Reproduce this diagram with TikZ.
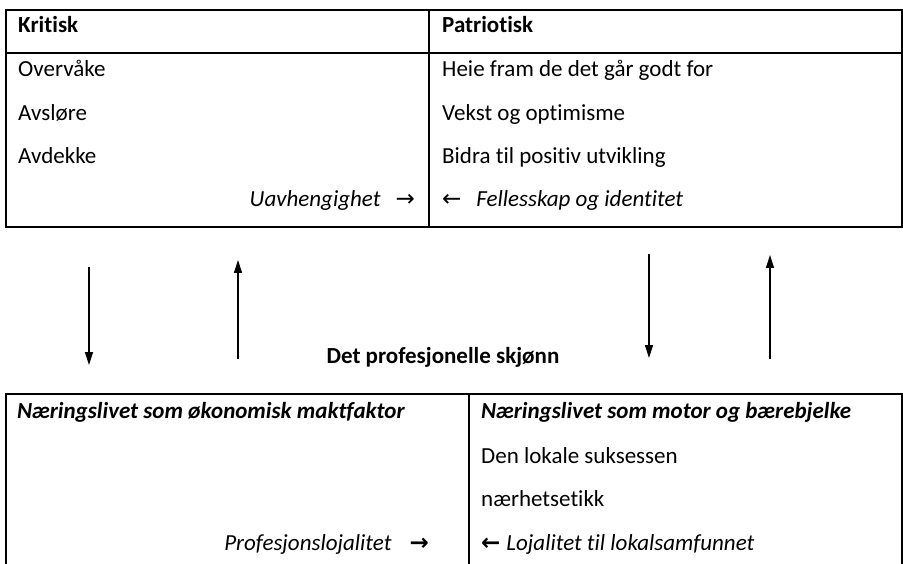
\documentclass[tikz,border=0pt]{standalone}
\usepackage{fontspec}
\setmainfont{Carlito}[Ligatures={NoCommon,NoContextual}]
\newfontfamily\arrowfont{DejaVu Sans}
\usetikzlibrary{arrows.meta}
\begin{document}
\begin{tikzpicture}[x=1pt,y=-1pt,
  every node/.style={inner sep=0pt,font=\fontsize{23}{28}\selectfont},
  lt/.style={anchor=base west},
  rt/.style={anchor=base east},
  ct/.style={anchor=base},
  rule/.style={line width=1.8pt},
  flow/.style={line width=1.3pt,-{Triangle[length=13pt,width=8pt]}}]
\useasboundingbox (0,0) rectangle (903,564);
% top table
\draw[rule] (6,10) rectangle (902,227);
\draw[rule] (6,53) -- (902,53);
\draw[rule] (429,10) -- (429,227);
\node[lt] (kritisk) at (18,33) {\bfseries Kritisk};
\node[lt] (overvake) at (18,77) {Overvåke};
\node[lt] (avslore) at (18,121) {Avsløre};
\node[lt] (avdekke) at (18,164) {Avdekke};
\node[rt] (uavh) at (415,207) {\itshape Uavhengighet\hspace{15pt}{\arrowfont →}};
\node[lt] (patriotisk) at (442,33) {\bfseries Patriotisk};
\node[lt] (heie) at (442,77) {Heie fram de det går godt for};
\node[lt] (vekst) at (442,121) {Vekst og optimisme};
\node[lt] (bidra) at (442,164) {Bidra til positiv utvikling};
\node[lt] (felles) at (442,207) {{\arrowfont ←}\hspace{15pt}\itshape Fellesskap og identitet};
% arrows
\coordinate (a1s) at (89,267);  \coordinate (a1e) at (89,365);
\coordinate (a2s) at (238,359); \coordinate (a2e) at (238,260);
\coordinate (a3s) at (649,254); \coordinate (a3e) at (649,358);
\coordinate (a4s) at (770,359); \coordinate (a4e) at (770,255);
\draw[flow] (a1s) -- (a1e);
\draw[flow] (a2s) -- (a2e);
\draw[flow] (a3s) -- (a3e);
\draw[flow] (a4s) -- (a4e);
\node[ct] (skjonn) at (443,363) {\bfseries Det profesjonelle skjønn};
% bottom table
\draw[rule] (6,564) -- (6,394) -- (902,394) -- (902,564);
\draw[rule] (469,394) -- (469,564);
\node[lt] (maktfaktor) at (17,418) {\bfseries\itshape Næringslivet som økonomisk maktfaktor};
\node[rt] (proflojal) at (429,550) {\itshape Profesjonslojalitet\hspace{18pt}{\arrowfont\bfseries →}};
\node[lt] (motor) at (481,418) {\bfseries\itshape Næringslivet som motor og bærebjelke};
\node[lt] (suksess) at (481,463) {Den lokale suksessen};
\node[lt] (naerhet) at (481,506) {nærhetsetikk};
\node[lt] (lokal) at (481,550) {{\arrowfont\bfseries ←}\hspace{6pt}\itshape Lojalitet til lokalsamfunnet};
\end{tikzpicture}
\end{document}
